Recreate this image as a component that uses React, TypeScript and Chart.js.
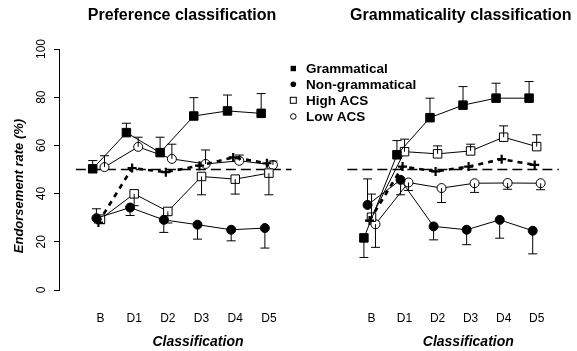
import React, { useEffect, useRef } from "react";
import { Chart, registerables } from "chart.js";

Chart.register(...registerables);

const FONT = "'Liberation Sans', Arial, Helvetica, sans-serif";

// Session labels on the x axis and the y-axis ticks
const categories = ["B", "D1", "D2", "D3", "D4", "D5"];
const yTicks = [0, 20, 40, 60, 80, 100];
const chanceLevel = 50;

// Preference classification: endorsement rate (%) and the far end of each error bar
const prefGrammatical = [50.3, 65.3, 57.0, 72.2, 74.3, 73.3];
const prefGrammaticalErr = [53.7, 69.2, 63.4, 79.8, 80.9, 81.5];
const prefNonGrammatical = [29.8, 34.2, 29.1, 27.1, 25.0, 25.7];
const prefNonGrammaticalErr = [33.7, 30.9, 23.9, 21.1, 20.4, 17.4];
const prefHighACS = [29.4, 39.9, 32.6, 47.1, 46.0, 48.5];
const prefHighACSErr = [27.5, 35.0, 27.8, 39.5, 39.8, 39.5];
const prefLowACS = [51.0, 59.4, 54.4, 52.3, 53.6, 51.9];
const prefLowACSErr = [55.7, 63.4, 60.5, 58.1, 56.0, 53.5];
const prefOverall = [28.0, 50.6, 48.9, 51.6, 55.0, 52.6];

// Grammaticality classification
const gramGrammatical = [21.6, 56.1, 71.5, 76.7, 79.6, 79.6];
const gramGrammaticalErr = [13.5, 62.0, 79.6, 84.4, 85.8, 86.5];
const gramNonGrammatical = [35.3, 45.7, 26.4, 25.0, 29.1, 24.6];
const gramNonGrammaticalErr = [46.1, 39.5, 20.8, 18.8, 21.5, 15.0];
const gramHighACS = [30.2, 57.4, 56.5, 57.7, 63.4, 59.5];
const gramHighACSErr = [39.8, 62.6, 59.8, 60.5, 68.1, 64.4];
const gramLowACS = [27.3, 44.6, 42.3, 44.3, 44.4, 44.3];
const gramLowACSErr = [17.7, 41.3, 36.3, 40.5, 41.8, 41.6];
const gramOverall = [28.8, 51.2, 49.2, 51.2, 54.3, 51.9];

const legendLabels = ["Grammatical", "Non-grammatical", "High ACS", "Low ACS"];

// Horizontal spacing between sessions and small side-shifts so markers don't overlap
const PX_PER_UNIT = 34.7;
const dodge = { gram: -0.23, non: -0.12, overall: -0.06, high: 0, low: 0.12 };

type PanelData = {
  grammatical: number[];
  grammaticalErr: number[];
  nonGrammatical: number[];
  nonGrammaticalErr: number[];
  highACS: number[];
  highACSErr: number[];
  lowACS: number[];
  lowACSErr: number[];
  overall: number[];
};

const pts = (vals: number[], shift: number) =>
  vals.map((v, i) => ({ x: i + shift, y: v }));

function buildDatasets(d: PanelData): any[] {
  const base = {
    showLine: true,
    borderColor: "#000",
    borderWidth: 1,
    pointBorderColor: "#000",
    pointBorderWidth: 1,
    clip: false,
  };
  return [
    {
      ...base,
      data: pts(d.grammatical, dodge.gram),
      errEnd: d.grammaticalErr,
      pointStyle: "rect",
      pointRadius: 6,
      pointBackgroundColor: "#000",
      order: 1,
    },
    {
      ...base,
      data: pts(d.nonGrammatical, dodge.non),
      errEnd: d.nonGrammaticalErr,
      pointStyle: "circle",
      pointRadius: 4.5,
      pointBackgroundColor: "#000",
      order: 2,
    },
    {
      ...base,
      data: pts(d.highACS, dodge.high),
      errEnd: d.highACSErr,
      pointStyle: "rect",
      pointRadius: 6,
      pointBackgroundColor: "#fff",
      order: 3,
    },
    {
      ...base,
      data: pts(d.lowACS, dodge.low),
      errEnd: d.lowACSErr,
      pointStyle: "circle",
      pointRadius: 4.5,
      pointBackgroundColor: "#fff",
      order: 4,
    },
    {
      ...base,
      data: pts(d.overall, dodge.overall),
      borderWidth: 2.6,
      borderDash: [5, 5],
      pointStyle: "cross",
      pointRadius: 4.5,
      pointBorderWidth: 2.2,
      order: 0,
    },
    {
      ...base,
      data: [
        { x: -0.73, y: chanceLevel },
        { x: 5.67, y: chanceLevel },
      ],
      borderWidth: 1.6,
      borderDash: [10, 5],
      pointRadius: 0,
      order: 5,
    },
  ];
}

// Error bars: vertical segment from the mean to its bar end, with a flat cap
const errorBarPlugin = {
  id: "errorBars",
  afterDatasetsDraw(chart: any) {
    const ctx = chart.ctx;
    const y = chart.scales.y;
    ctx.save();
    ctx.strokeStyle = "#000";
    ctx.lineWidth = 1;
    chart.data.datasets.forEach((ds: any, i: number) => {
      if (!ds.errEnd) return;
      const meta = chart.getDatasetMeta(i);
      meta.data.forEach((p: any, j: number) => {
        const yEnd = y.getPixelForValue(ds.errEnd[j]);
        ctx.beginPath();
        ctx.moveTo(p.x, p.y);
        ctx.lineTo(p.x, yEnd);
        ctx.moveTo(p.x - 4.5, yEnd);
        ctx.lineTo(p.x + 4.5, yEnd);
        ctx.stroke();
      });
    });
    ctx.restore();
  },
};

type TextSpec = {
  title: string;
  titleX: number;
  xTitleX: number;
  yAxis: boolean;
  legend: boolean;
};

function makeTextPlugin(spec: TextSpec) {
  return {
    id: "panelText",
    afterDraw(chart: any) {
      const ctx = chart.ctx;
      ctx.save();
      ctx.fillStyle = "#000";
      ctx.strokeStyle = "#000";
      ctx.textAlign = "center";
      ctx.textBaseline = "middle";

      ctx.font = `bold 16px ${FONT}`;
      ctx.fillText(spec.title, spec.titleX, 16);

      ctx.font = `italic bold 14px ${FONT}`;
      ctx.fillText("Classification", spec.xTitleX, 342);

      if (spec.yAxis) {
        const ys = chart.scales.y;
        ctx.font = `12px ${FONT}`;
        ys.ticks.forEach((t: any) => {
          const py = ys.getPixelForValue(t.value);
          ctx.save();
          ctx.translate(41.5, py);
          ctx.rotate(-Math.PI / 2);
          ctx.fillText(String(t.value), 0, 0);
          ctx.restore();
        });
        ctx.save();
        ctx.font = `italic bold 13px ${FONT}`;
        ctx.translate(19, 186);
        ctx.rotate(-Math.PI / 2);
        ctx.fillText("Endorsement rate (%)", 0, 0);
        ctx.restore();
      }

      if (spec.legend) {
        const mx = 8.3;
        const tx = 21;
        const rows = [68.5, 84.3, 100.3, 116.5];
        ctx.textAlign = "left";
        ctx.font = `bold 13.5px ${FONT}`;
        legendLabels.forEach((label, i) => {
          const ry = rows[i];
          ctx.lineWidth = 1;
          if (i === 0) {
            ctx.fillRect(mx - 2.7, ry - 2.7, 5.4, 5.4);
          } else if (i === 1) {
            ctx.beginPath();
            ctx.arc(mx, ry, 2.8, 0, Math.PI * 2);
            ctx.fill();
          } else if (i === 2) {
            ctx.strokeRect(mx - 3, ry - 3, 6, 6);
          } else {
            ctx.beginPath();
            ctx.arc(mx, ry, 2.8, 0, Math.PI * 2);
            ctx.stroke();
          }
          ctx.fillText(label, tx, ry + 0.5);
        });
      }
      ctx.restore();
    },
  };
}

function makeChart(
  canvas: HTMLCanvasElement,
  data: PanelData,
  xMin: number,
  xMax: number,
  showYAxis: boolean,
  text: TextSpec
) {
  return new Chart(canvas, {
    type: "line",
    data: { datasets: buildDatasets(data) },
    options: {
      responsive: false,
      animation: false,
      devicePixelRatio: 1,
      layout: { padding: { top: 49, left: 0, right: 0, bottom: 0 } },
      plugins: { legend: { display: false }, tooltip: { enabled: false } },
      scales: {
        x: {
          type: "linear",
          min: xMin,
          max: xMax,
          afterFit: (s: any) => {
            s.height = 61;
          },
          afterBuildTicks: (s: any) => {
            s.ticks = categories.map((_, i) => ({ value: i }));
          },
          grid: { display: false, drawTicks: false },
          border: { display: false },
          ticks: {
            autoSkip: false,
            maxRotation: 0,
            minRotation: 0,
            padding: 21,
            color: "#000",
            font: { family: FONT, size: 12 },
            callback: (v: any) => categories[v as number] ?? "",
          },
        },
        y: {
          type: "linear",
          min: 0,
          max: 100,
          display: showYAxis,
          afterFit: (s: any) => {
            s.width = showYAxis ? 59 : 0;
          },
          afterBuildTicks: (s: any) => {
            s.ticks = yTicks.map((v) => ({ value: v }));
          },
          grid: {
            drawOnChartArea: false,
            drawTicks: true,
            tickLength: 5,
            color: "#000",
            lineWidth: 1,
          },
          border: { display: true, color: "#000", width: 1 },
          ticks: { display: false },
        },
      },
    },
    plugins: [errorBarPlugin, makeTextPlugin(text)],
  } as any);
}

const LEFT_W = 300;
const RIGHT_X = 285;
const RIGHT_W = 577 - RIGHT_X;

export default function App() {
  const leftRef = useRef<HTMLCanvasElement>(null);
  const rightRef = useRef<HTMLCanvasElement>(null);

  useEffect(() => {
    const leftOrigin = 101.7; // pixel of session B in the left panel
    const lMin = -(leftOrigin - 59) / PX_PER_UNIT;
    const lMax = lMin + (LEFT_W - 59) / PX_PER_UNIT;
    const rightOrigin = 368.5 - RIGHT_X;
    const rMin = -rightOrigin / PX_PER_UNIT;
    const rMax = rMin + RIGHT_W / PX_PER_UNIT;

    const left = makeChart(
      leftRef.current!,
      {
        grammatical: prefGrammatical,
        grammaticalErr: prefGrammaticalErr,
        nonGrammatical: prefNonGrammatical,
        nonGrammaticalErr: prefNonGrammaticalErr,
        highACS: prefHighACS,
        highACSErr: prefHighACSErr,
        lowACS: prefLowACS,
        lowACSErr: prefLowACSErr,
        overall: prefOverall,
      },
      lMin,
      lMax,
      true,
      {
        title: "Preference classification",
        titleX: 182,
        xTitleX: 198,
        yAxis: true,
        legend: false,
      }
    );
    const right = makeChart(
      rightRef.current!,
      {
        grammatical: gramGrammatical,
        grammaticalErr: gramGrammaticalErr,
        nonGrammatical: gramNonGrammatical,
        nonGrammaticalErr: gramNonGrammaticalErr,
        highACS: gramHighACS,
        highACSErr: gramHighACSErr,
        lowACS: gramLowACS,
        lowACSErr: gramLowACSErr,
        overall: gramOverall,
      },
      rMin,
      rMax,
      false,
      {
        title: "Grammaticality classification",
        titleX: 460.8 - RIGHT_X,
        xTitleX: 468.3 - RIGHT_X,
        yAxis: false,
        legend: true,
      }
    );
    return () => {
      left.destroy();
      right.destroy();
    };
  }, []);

  return (
    <div
      style={{
        position: "fixed",
        left: 0,
        top: 0,
        width: 577,
        height: 351,
        background: "#fff",
        overflow: "hidden",
      }}
    >
      <canvas
        ref={leftRef}
        width={LEFT_W}
        height={351}
        style={{ position: "absolute", left: 0, top: 0, width: LEFT_W, height: 351 }}
      />
      <canvas
        ref={rightRef}
        width={RIGHT_W}
        height={351}
        style={{ position: "absolute", left: RIGHT_X, top: 0, width: RIGHT_W, height: 351 }}
      />
    </div>
  );
}
